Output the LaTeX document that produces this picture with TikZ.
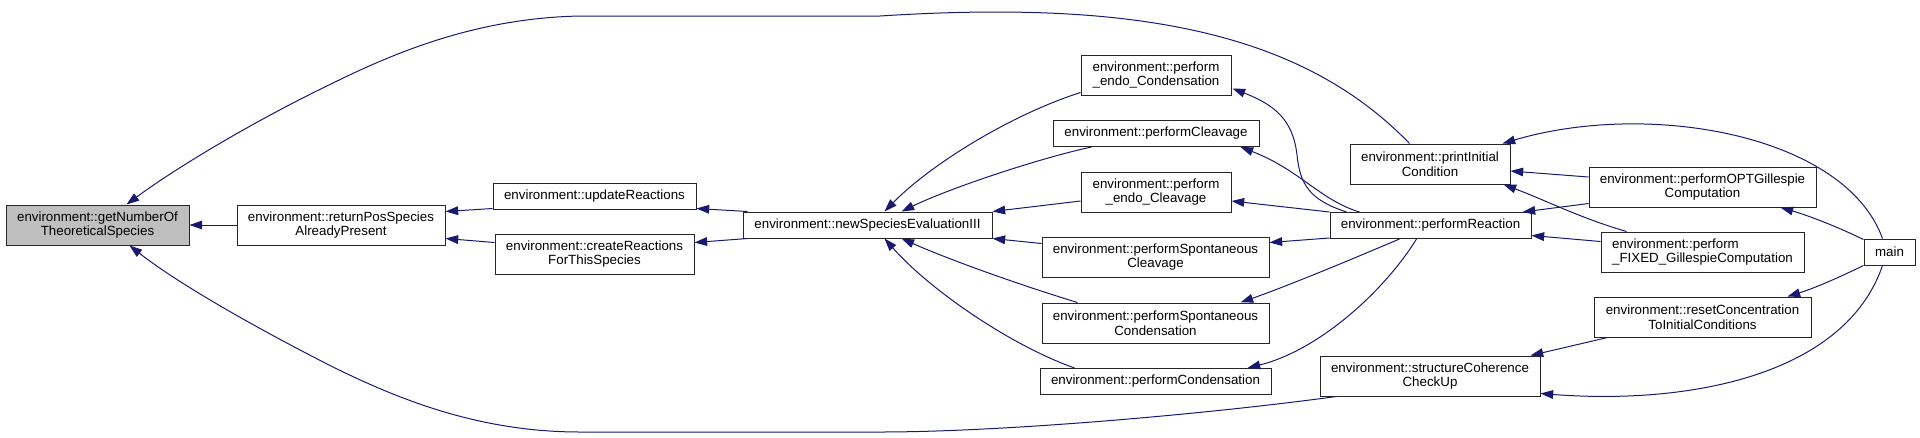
\documentclass[tikz,border=0pt]{standalone}
\usepackage{fontspec}
\setmainfont{Liberation Sans}
\usetikzlibrary{arrows.meta,calc}
\definecolor{edgeblue}{HTML}{191970}
\definecolor{hlgray}{HTML}{BFBFBF}
\begin{document}
\begin{tikzpicture}[x=0.75pt,y=-0.75pt,
  box/.style={draw=black!85, line width=0.75pt, fill=white, inner sep=0pt, align=center, font=\fontsize{10}{11}\selectfont},
  sz/.style 2 args={minimum width=#1*0.75pt, minimum height=#2*0.75pt},
  edge/.style={draw=edgeblue, line width=0.75pt, -{Triangle[length=9.5pt,width=6.5pt]}}]
\useasboundingbox (0,0) rectangle (1920,437);

\node[box, fill=hlgray, sz={183}{40}] (gn) at (97.5,225) {environment::getNumberOf\\TheoreticalSpecies};
\node[box, sz={208}{40}] (rp) at (341,225) {environment::returnPosSpecies\\AlreadyPresent};
\node[box, sz={203}{26}] (ur) at (594.5,196) {environment::updateReactions};
\node[box, sz={199}{40}] (cr) at (594.5,254) {environment::createReactions\\ForThisSpecies};
\node[box, sz={249}{26}] (ns) at (867.5,225) {environment::newSpeciesEvaluationIII};
\node[box, sz={150}{40}] (ec) at (1156,75) {environment::perform\\\_endo\_Condensation};
\node[box, sz={206}{26}] (pc) at (1156,133.5) {environment::performCleavage};
\node[box, sz={150}{40}] (ecl) at (1156,192) {environment::perform\\\_endo\_Cleavage};
\node[box, sz={227}{40}] (sc) at (1155.5,257) {environment::performSpontaneous\\Cleavage};
\node[box, sz={227}{40}] (scd) at (1155.5,323) {environment::performSpontaneous\\Condensation};
\node[box, sz={231}{26}] (pcd) at (1155.5,381.5) {environment::performCondensation};
\node[box, sz={160}{40}] (pi) at (1430,164) {environment::printInitial\\Condition};
\node[box, sz={201}{26}] (pr) at (1430.5,225.5) {environment::performReaction};
\node[box, sz={220}{40}] (sch) at (1430,376) {environment::structureCoherence\\CheckUp};
\node[box, sz={227}{40}] (opt) at (1702.5,187) {environment::performOPTGillespie\\Computation};
\node[box, sz={203}{40}, align=left] (fx) at (1702.5,252) {environment::perform\\\_FIXED\_GillespieComputation};
\node[box, sz={217}{40}] (rc) at (1702.5,317) {environment::resetConcentration\\ToInitialConditions};
\node[box, sz={51}{26}] (mn) at (1889.5,252) {main};

% to getNumberOf
\draw[edge] (rp.west) -- (gn.east);
\draw[edge] ($(pi.north west)+(60,0)$) .. controls (1300,30) and (1130,0) .. (880,16) -- (580,16) .. controls (480,18) and (400,50) .. (333,83) .. controls (260,118) and (180,165) .. ($(gn.north west)+(121,0)$);
\draw[edge] ($(sch.south west)+(17,0)$) .. controls (1200,415) and (1000,432) .. (880,432) -- (580,432) .. controls (480,432) and (400,400) .. (333,367) .. controls (260,330) and (180,285) .. ($(gn.south west)+(124,0)$);

% to returnPos
\draw[edge] ($(ur.south west)+(0,-1)$) -- ($(rp.north east)+(0,7)$);
\draw[edge] ($(cr.north west)+(0,9)$) -- ($(rp.south east)+(0,-7)$);

% from newSpecies
\draw[edge] ($(ns.north west)+(5,0)$) -- ($(ur.south east)+(0,-1)$);
\draw[edge] ($(ns.south west)+(5,0)$) -- ($(cr.north east)+(0,9)$);

% to newSpecies
\draw[edge] ($(ec.south west)+(0,-3)$) .. controls (1010,115) and (930,165) .. ($(ns.north west)+(142,0)$);
\draw[edge] ($(pc.south west)+(39,0)$) .. controls (1040,158) and (950,188) .. ($(ns.north west)+(159,0)$);
\draw[edge] ($(ecl.west)+(0,9)$) -- (ns.north east);
\draw[edge] ($(sc.north west)+(0,7)$) -- (ns.south east);
\draw[edge] ($(scd.north west)+(36,0)$) .. controls (1020,285) and (950,260) .. ($(ns.south west)+(159,0)$);
\draw[edge] ($(pcd.north west)+(35,0)$) .. controls (1010,345) and (930,290) .. ($(ns.south west)+(142,0)$);

% from performReaction
\draw[edge] ($(pr.north west)+(17,0)$) .. controls (1310,200) and (1300,185) .. (1297,155) .. controls (1293,120) and (1275,105) .. ($(ec.south east)+(1,-7)$);
\draw[edge] ($(pr.north west)+(30,0)$) .. controls (1320,200) and (1300,170) .. ($(pc.south east)+(-19,0)$);
\draw[edge] (pr.north west) -- ($(ecl.east)+(0,9)$);
\draw[edge] ($(pr.south west)+(0,-1)$) -- ($(sc.north east)+(0,6)$);
\draw[edge] ($(pr.south west)+(70,0)$) .. controls (1350,260) and (1290,285) .. ($(scd.north east)+(-29,0)$);
\draw[edge] ($(pr.south west)+(87,0)$) .. controls (1385,290) and (1320,350) .. ($(pcd.north east)+(-24,0)$);

% right side
\draw[edge] ($(mn.north west)+(19,0)$) .. controls (1845,135) and (1650,100) .. ($(pi.north east)+(-8,0)$);
\draw[edge] ($(opt.west)+(0,-10)$) -- ($(pi.east)+(0,7)$);
\draw[edge] ($(fx.north west)+(26,0)$) .. controls (1580,218) and (1545,200) .. ($(pi.south east)+(-7,0)$);
\draw[edge] ($(opt.south west)+(0,-4)$) -- ($(pr.north east)+(-9,0)$);
\draw[edge] ($(fx.north west)+(0,10)$) -- ($(pr.east)+(0,10)$);
\draw[edge] ($(mn.north west)+(0,1)$) .. controls (1840,228) and (1810,216) .. ($(opt.south east)+(-36,0)$);
\draw[edge] (mn.south west) .. controls (1840,277) and (1815,288) .. ($(rc.north east)+(-24,0)$);
\draw[edge] ($(mn.south west)+(19,0)$) .. controls (1845,375) and (1690,405) .. ($(sch.south east)+(0,-3)$);
\draw[edge] ($(rc.south west)+(14,0)$) -- ($(sch.north east)+(-10,0)$);
\end{tikzpicture}
\end{document}
